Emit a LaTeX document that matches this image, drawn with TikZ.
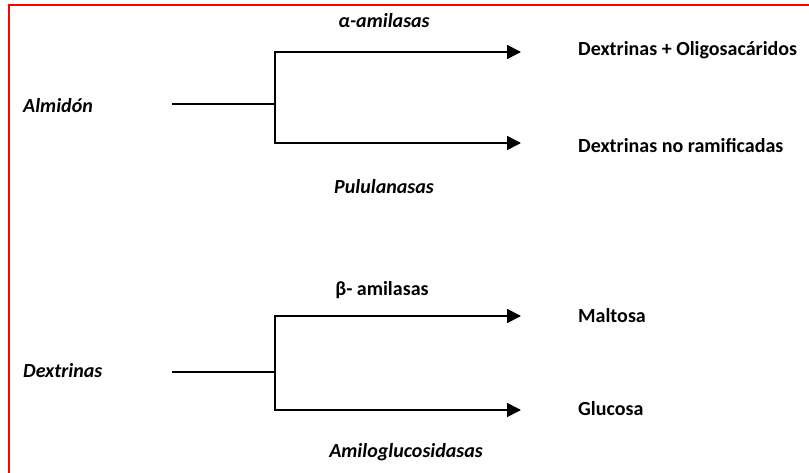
\documentclass[tikz,border=0pt]{standalone}
\usepackage{fontspec}
\setmainfont{Carlito}
\usetikzlibrary{arrows.meta, positioning}

\begin{document}
\begin{tikzpicture}[x=1pt, y=-1pt]
	\tikzset{flow/.style={line width=1.6pt, -{Triangle[length=14pt, width=14pt]}},
		stem/.style={line width=1.6pt},
		txt/.style={inner sep=0pt, font=\fontsize{20}{24}\selectfont\bfseries},
		enz/.style={txt, font=\fontsize{20}{24}\selectfont\bfseries\itshape},
		sub/.style={enz, anchor=west},
		prod/.style={txt, anchor=west}}

	\useasboundingbox (0,0) rectangle (809,473);
	\draw[red, line width=2.5pt] (9,473) -- (9,5) -- (809,5);

	% almidon
	\node[sub] (alm) at (23,106) {Almidón};
	\coordinate (a0) at (172,104);
	\coordinate (a1) at (275,104);
	\coordinate (a2) at (521,52);
	\coordinate (a3) at (521,143);
	\node[prod] (dex1) at (578,50) {Dextrinas + Oligosacáridos};
	\node[prod] (dex2) at (578,146) {Dextrinas no rami\kern0ptficadas};
	\node[enz] (alfa) at (384,21) {α-amilasas};
	\node[enz] (pulu) at (384,187) {Pululanasas};

	\draw[stem] (a0) -- (a1);
	\draw[flow] (a1) |- (a2);
	\draw[flow] (a1) |- (a3);

	% dextrinas
	\node[sub] (dext) at (23,371) {Dextrinas};
	\coordinate (b0) at (172,372);
	\coordinate (b1) at (275,372);
	\coordinate (b2) at (521,316);
	\coordinate (b3) at (521,410);
	\node[prod] (malt) at (578,316) {Maltosa};
	\node[prod] (gluc) at (578,409) {Glucosa};
	\node[txt] (beta) at (382,290) {β- amilasas};
	\node[enz] (amil) at (406,452) {Amiloglucosidasas};

	\draw[stem] (b0) -- (b1);
	\draw[flow] (b1) |- (b2);
	\draw[flow] (b1) |- (b3);
\end{tikzpicture}
\end{document}
